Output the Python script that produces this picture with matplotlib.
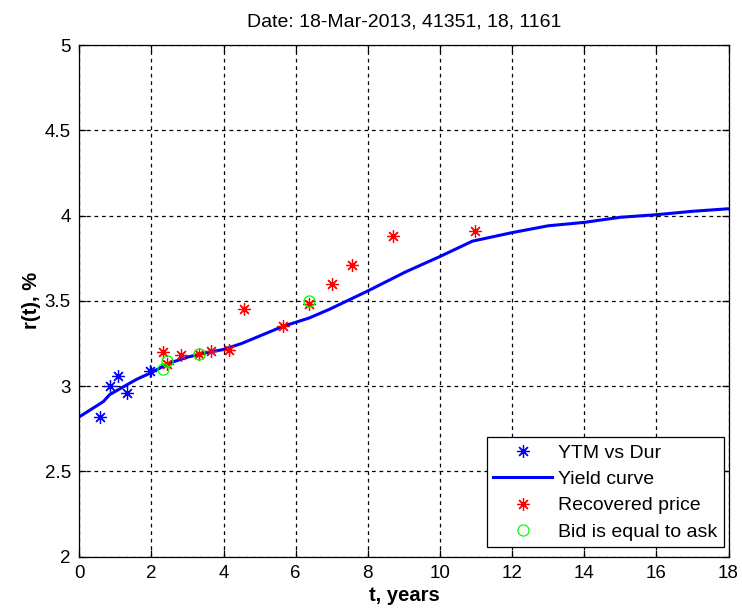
import matplotlib
matplotlib.use("Agg")
import matplotlib.pyplot as plt

plt.rcParams['font.family'] = ['Liberation Sans', 'DejaVu Sans']

# YTM vs duration (blue asterisks)
ytm_x = [0.58, 0.84, 1.07, 1.33, 1.96]
ytm_y = [2.82, 3.00, 3.06, 2.96, 3.09]

# Yield curve
curve_x = [0.0, 0.3, 0.67, 0.84, 1.13, 1.59, 2.0, 2.5, 3.0, 3.5, 4.0, 4.5, 4.9, 5.64,
           6.38, 6.93, 7.97, 9.05, 10.0, 10.9, 12.0, 13.0, 14.0, 15.0, 16.0, 17.0, 18.0]
curve_y = [2.82, 2.86, 2.91, 2.95, 2.985, 3.04, 3.08, 3.135, 3.17, 3.195, 3.215, 3.25, 3.285, 3.35,
           3.40, 3.45, 3.555, 3.67, 3.76, 3.85, 3.90, 3.94, 3.96, 3.99, 4.005, 4.025, 4.04]

# Recovered price (red asterisks)
rec_x = [2.33, 2.42, 2.82, 3.32, 3.65, 4.15, 4.56, 5.64, 6.38, 7.0, 7.56, 8.71, 10.96]
rec_y = [3.20, 3.13, 3.18, 3.19, 3.205, 3.21, 3.45, 3.35, 3.48, 3.60, 3.71, 3.88, 3.91]

# Bid equal to ask (green circles)
bid_x = [2.33, 2.42, 3.32, 6.38]
bid_y = [3.10, 3.15, 3.19, 3.50]

title = "Date: 18-Mar-2013, 41351, 18, 1161"

fig = plt.figure(figsize=(7.42, 6.14), dpi=100)
ax = fig.add_axes([79.3 / 742, 1 - 556.7 / 614, (728.5 - 79.3) / 742, (556.7 - 45) / 614])

star = (8, 2, 0)
ax.plot(ytm_x, ytm_y, linestyle='none', marker=star, color='blue',
        markersize=9, markeredgewidth=0.9, label='YTM vs Dur', zorder=3)
ax.plot(curve_x, curve_y, color='blue', linewidth=2.2, label='Yield curve', zorder=2)
ax.plot(rec_x, rec_y, linestyle='none', marker=star, color='red',
        markersize=9, markeredgewidth=0.9, label='Recovered price', zorder=4)
ax.plot(bid_x, bid_y, linestyle='none', marker='o', markerfacecolor='none',
        markeredgecolor=(0, 1, 0), markersize=8, markeredgewidth=0.9,
        label='Bid is equal to ask', zorder=5)

ax.set_xlim(0, 18)
ax.set_ylim(2, 5)
ax.set_xticks(range(0, 19, 2))
ax.set_yticks([2, 2.5, 3, 3.5, 4, 4.5, 5])
ax.set_yticklabels(['2', '2.5', '3', '3.5', '4', '4.5', '5'])
ax.grid(True, color='black', linestyle=(0, (3, 3)), linewidth=0.9)
ax.tick_params(direction='in', top=True, right=True, labelsize=13.5, length=5, width=0.9, pad=6)
for s in ax.spines.values():
    s.set_linewidth(0.9)

ax.set_title(title, fontsize=14, pad=13)
ax.set_xlabel('t, years', fontsize=14.5, fontweight='bold', labelpad=3)
ax.set_ylabel('r(t), %', fontsize=14.5, fontweight='bold', labelpad=3)

leg = ax.legend(loc='lower right', bbox_to_anchor=(0.9925, 0.018), fontsize=14,
                fancybox=False, edgecolor='black', framealpha=1, handlelength=3.0,
                borderpad=0.35, labelspacing=0.45, handletextpad=0.3, borderaxespad=0)
leg.get_frame().set_linewidth(0.9)

fig.savefig('out.png', dpi=100)
